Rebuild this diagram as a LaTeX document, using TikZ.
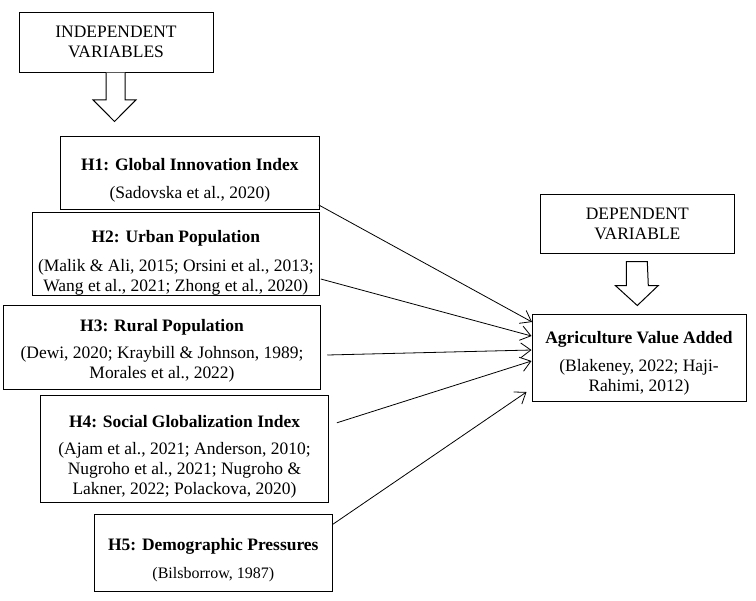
\documentclass[tikz,border=0pt]{standalone}
\usepackage{fontspec}
\setmainfont{Liberation Serif}
\usetikzlibrary{arrows.meta,calc}
\begin{document}
\begin{tikzpicture}[x=0.75pt,y=-0.75pt,
  font=\fontsize{13.1pt}{15pt}\selectfont,
  box/.style={draw,line width=0.75pt,inner sep=0pt,align=center},
  link/.style={line width=0.6pt,-{Straight Barb[length=7.5pt,width=11pt,line width=0.6pt]}},
  hollow/.style={draw,line width=0.75pt,fill=white}]
\useasboundingbox (0,0) rectangle (756,600);
\fill[white] (0,0) rectangle (756,600);
\newcommand{\tstrut}[1][15]{\rule{0pt}{#1pt}}
\node[box,minimum width=194*0.75pt,minimum height=60*0.75pt] (ind) at (116,42) {INDEPENDENT\\VARIABLES};
\node[box,minimum width=259*0.75pt,minimum height=73*0.75pt] (h1) at (189.8,173) {\tstrut[19.5]\textbf{H1: Global Innovation Index}\\[6pt](Sadovska et al., 2020)};
\node[box,minimum width=287*0.75pt,minimum height=83*0.75pt] (h2) at (175.8,254) {\tstrut[22.5]\textbf{H2: Urban Population}\\[7pt](Malik \& Ali, 2015; Orsini et al., 2013;\\Wang et al., 2021; Zhong et al., 2020)};
\node[box,minimum width=317.5*0.75pt,minimum height=84*0.75pt] (h3) at (162,347) {\tstrut[15]\textbf{H3: Rural Population}\\[5pt](Dewi, 2020; Kraybill \& Johnson, 1989;\\Morales et al., 2022)};
\node[box,minimum width=287.7*0.75pt,minimum height=107*0.75pt] (h4) at (184.5,448.8) {\tstrut[21]\textbf{H4: Social Globalization Index}\\[5pt](Ajam et al., 2021; Anderson, 2010;\\Nugroho et al., 2021; Nugroho \&\\Lakner, 2022; Polackova, 2020)};
\node[box,minimum width=238*0.75pt,minimum height=77*0.75pt] (h5) at (213.3,553.3) {\tstrut[19.5]\textbf{H5: Demographic Pressures}\\[6pt]{\fontsize{12pt}{14pt}\selectfont(Bilsborrow, 1987)}};
\node[box,minimum width=194.5*0.75pt,minimum height=59*0.75pt] (dep) at (637.3,224) {DEPENDENT\\VARIABLE};
\node[box,minimum width=214*0.75pt,minimum height=87*0.75pt] (agr) at (639,357.5) {\tstrut[18]\textbf{Agriculture Value Added}\\[6pt](Blakeney, 2022; Haji-\\Rahimi, 2012)};
% hollow arrows
\path[hollow] ($(ind.south)+(-10,0)$) -- ++(0,27.3) -- ++(-13,0) -- ($(ind.south)+(-1.5,49)$) -- ($(ind.south)+(20,27.3)$) -- ++(-11,0) -- ($(ind.south)+(9,0)$);
\path[hollow] ($(dep.south)+(-11,7.5)$) -- ++(0,24) -- ++(-11,0) -- ($(dep.south)+(0,51.5)$) -- ($(dep.south)+(21,31.5)$) -- ++(-10,0) -- ($(dep.south)+(10,7.5)$) -- cycle;
% connectors
\draw[link] ($(h1.south east)+(-1,-5)$) -- ($(agr.west)+(0.5,-35.5)$);
\draw[link] ($(h2.east)+(1,25)$) -- ($(agr.west)+(0,-21.5)$);
\draw[link] ($(h3.east)+(6,8)$) -- ($(agr.west)+(0,-7.5)$);
\draw[link] ($(h4.east)+(8,-26)$) -- ($(agr.west)+(0,3.5)$);
\draw[link] ($(h5.north east)+(0,10)$) -- ($(agr.west)+(-5,34.5)$);
\end{tikzpicture}
\end{document}
